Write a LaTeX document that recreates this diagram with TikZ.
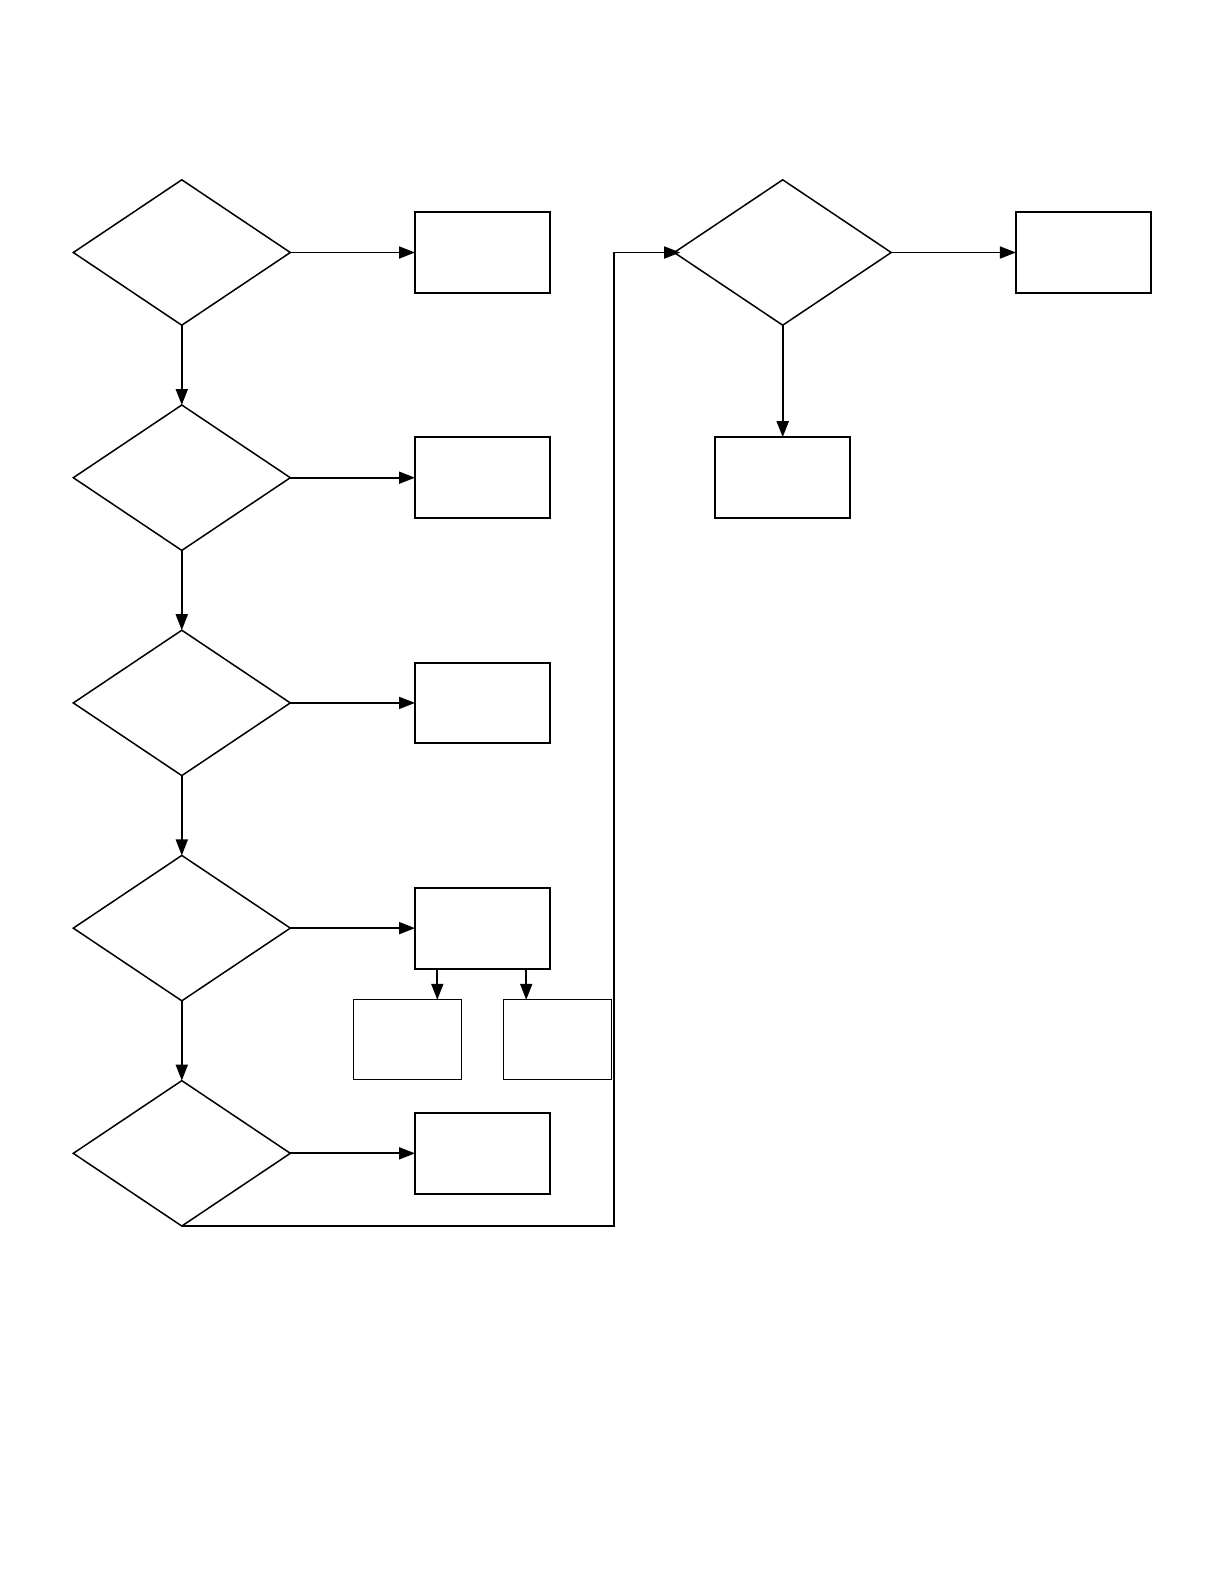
\documentclass[tikz,border=0pt]{standalone}
\usetikzlibrary{positioning,arrows.meta,shapes.geometric}
\begin{document}
\begin{tikzpicture}[x=0.5bp, y=-0.5bp,
  decide/.style={draw, diamond, minimum width=108.5bp, minimum height=72.7bp, inner sep=0pt, outer sep=0pt, line width=0.75bp},
  stepbox/.style={draw, minimum width=67.7bp, minimum height=40.4bp, inner sep=0pt, outer sep=0pt, line width=1bp},
  subbox/.style={draw, minimum width=54bp, minimum height=39.9bp, inner sep=0pt, outer sep=0pt, line width=0.5bp},
  flow/.style={-{Triangle[length=8bp, width=6bp]}, line width=0.9bp},
  node distance=39.9bp and 62.35bp]
\useasboundingbox (0,0) rectangle (1224,1584);
\node[decide] (d1) at (181.8,252.5) {};
\node[decide, below=of d1] (d2) {};
\node[decide, below=of d2] (d3) {};
\node[decide, below=of d3] (d4) {};
\node[decide, below=of d4] (d5) {};
\node[stepbox, right=of d1] (b1) {};
\node[stepbox, right=of d2] (b2) {};
\node[stepbox, right=of d3] (b3) {};
\node[stepbox, right=of d4] (b4) {};
\node[stepbox, right=of d5] (b5) {};
\node[subbox] (s1) at (407.5,1039.7) {};
\node[subbox] (s2) at (557,1039.7) {};
\node[decide] (d6) at (782.7,252.5) {};
\node[stepbox, right=of d6] (r1) {};
\node[stepbox, below=56bp of d6] (r2) {};
\coordinate (bend) at (614,252.5);
\foreach \a/\b in {d1/d2, d2/d3, d3/d4, d4/d5}{
  \draw[flow] (\a.south) -- (\b.north);
}
\foreach \a/\b in {d1/b1, d2/b2, d3/b3, d4/b4, d5/b5, d6/r1}{
  \draw[flow] (\a.east) -- (\b.west);
}
\draw[flow] ([xshift=-22.7bp]b4.south) -- ([xshift=-22.7bp]b4.south |- s1.north);
\draw[flow] ([xshift=21.75bp]b4.south) -- ([xshift=21.75bp]b4.south |- s2.north);
\draw[flow] (d6.south) -- (r2.north);
\draw[flow] (d5.south) -| (bend) -- ([xshift=3bp]d6.west);
\end{tikzpicture}
\end{document}
